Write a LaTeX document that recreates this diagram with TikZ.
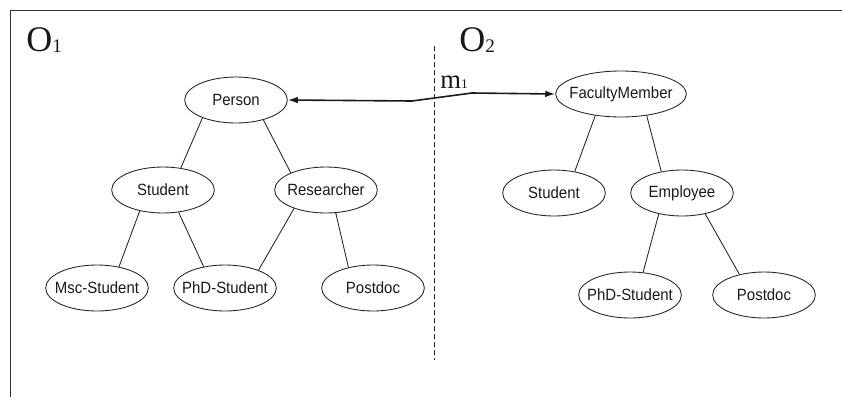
\documentclass[tikz,border=0pt]{standalone}
\usepackage{fontspec}
\setmainfont{Liberation Sans}
\newfontfamily\serifface{Liberation Serif}
\usetikzlibrary{shapes.geometric,arrows.meta}
% centre a label without letting it widen the ellipse
\newcommand\ctr[1]{\makebox[0pt]{\scalebox{0.92}[1]{#1}}}

\begin{document}
\begin{tikzpicture}[x=0.75pt,y=-0.75pt,
  concept/.style={ellipse, draw=black!85, line width=0.65pt, inner sep=0pt,
    minimum width=77pt, minimum height=34.5pt,
    font=\fontsize{12.2}{14}\selectfont, text=black!90},
  widebox/.style={minimum width=98pt},
  link/.style={draw=black!85, line width=0.65pt},
  onto/.style={anchor=base west, inner sep=0pt, text=black!90,
    font=\serifface\fontsize{27}{30}\selectfont},
  mapping/.style={draw=black!90, line width=1.2pt,
    {Latex[length=7.5pt,width=5pt]}-{Latex[length=7.5pt,width=5pt]}},
  frame/.style={draw=black!80, line width=0.75pt},
  divider/.style={draw=black!85, line width=0.6pt, dash pattern=on 3.75pt off 2.25pt}]

\useasboundingbox (0,0) rectangle (842,397);

% outer frame (top and left edges)
\draw[frame] (10,397) -- (10,10) -- (842,10);

% divider between the two ontologies
\draw[divider] (434,46) -- (434,360);

% ontology names
\node[onto] (o1) at (26,51) {O\raisebox{-0.75pt}{\fontsize{14.4}{16}\selectfont 1}};
\node[onto] (o2) at (459,51) {O\raisebox{-0.75pt}{\fontsize{14.4}{16}\selectfont 2}};

% ontology O1
\node[concept] (person)  at (236,100) {\ctr{Person}};
\node[concept] (stud1)   at (163,190) {\ctr{Student}};
\node[concept] (res)     at (326,190) {\ctr{Researcher}};
\node[concept] (msc)     at (97,288)  {\ctr{Msc-Student}};
\node[concept] (phd1)    at (225,288) {\ctr{PhD-Student}};
\node[concept] (post1)   at (373,288) {\ctr{Postdoc}};

\draw[link] (person.208) -- (stud1.51);
\draw[link] (person.324) -- (res.154);
\draw[link] (stud1.222) -- (msc.44);
\draw[link] (stud1.305) -- (phd1.135);
\draw[link] (res.210) -- (phd1.28);
\draw[link] (res.293) -- (post1.140);

% ontology O2
\node[concept, widebox] (fm) at (621,94) {\ctr{FacultyMember}};
\node[concept] (stud2) at (554,193) {\ctr{Student}};
\node[concept] (emp)   at (682,193) {\ctr{Employee}};
\node[concept] (phd2)  at (630,295) {\ctr{PhD-Student}};
\node[concept] (post2) at (764,295) {\ctr{Postdoc}};

\draw[link] (fm.220) -- (stud2.46);
\draw[link] (fm.320) -- (emp.134);
\draw[link] (emp.222) -- (phd2.60);
\draw[link] (emp.318) -- (post2.140);

% mapping m1 between Person and FacultyMember
\coordinate (k1) at (412,101);
\coordinate (k2) at (472,93);
\draw[mapping] (person.east) -- (k1) -- (k2) -- (fm.west);
\node[onto, font=\serifface\fontsize{20}{22}\selectfont] (m1) at (440,88)
  {m{\fontsize{10}{11}\selectfont 1}};

\end{tikzpicture}
\end{document}
